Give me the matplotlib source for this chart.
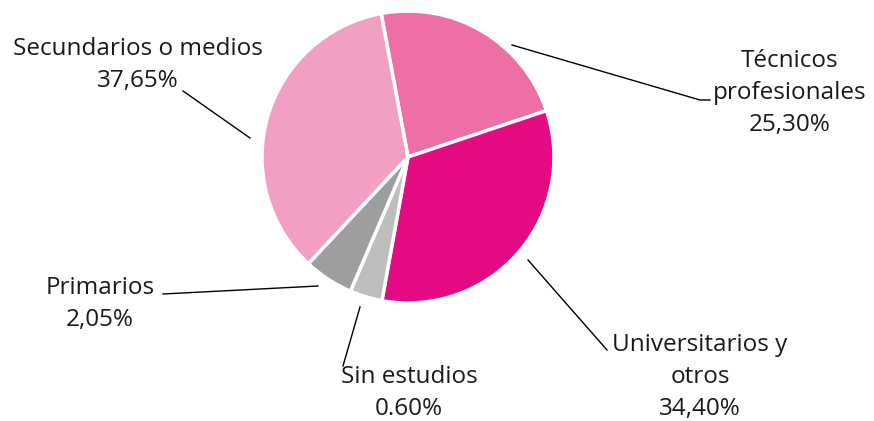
import numpy as np
import matplotlib
matplotlib.use('Agg')
import matplotlib.pyplot as plt

W, H = 874, 421

# valores (porción dibujada) y etiquetas tal como aparecen
categorias = ['Técnicos\nprofesionales', 'Universitarios y\notros', 'Sin estudios',
              'Primarios', 'Secundarios o medios']
porcentajes = ['25,30%', '34,40%', '0.60%', '2,05%', '37,65%']
valores = [22.8, 33.0, 3.6, 5.5, 35.1]
colores = ['#EE6FA5', '#E40A84', '#BDBEBD', '#9D9E9D', '#F19FC3']

plt.rcParams['font.family'] = ['Open Sans', 'DejaVu Sans']

fig = plt.figure(figsize=(W / 100, H / 100), dpi=100)
ax = fig.add_axes([0, 0, 1, 1])
ax.set_xlim(0, W)
ax.set_ylim(0, H)
ax.axis('off')

cx, cy, R = 408, H - 157, 146
ax.pie(valores, colors=colores, startangle=100.6, counterclock=False,
       center=(cx, cy), radius=R,
       wedgeprops=dict(edgecolor='white', linewidth=2.5))
ax.set_xlim(0, W)
ax.set_ylim(0, H)

# posición de etiquetas (centro del bloque de texto, en píxeles de imagen)
etiquetas_pos = [(790, 93), (700, 377), (409, 393), (100, 304), (138, 65)]
# líneas guía (puntos en píxeles de imagen)
guias = [
    [(512, 45), (700, 100), (710, 100)],
    [(528, 260), (607, 350)],
    [(360, 307), (343, 366)],
    [(318, 286), (163, 294)],
    [(250, 138), (183, 91)],
]

for cat, pct, (lx, ly), g in zip(categorias, porcentajes, etiquetas_pos, guias):
    ax.text(lx, H - ly, cat + '\n' + pct, ha='center', va='center',
            fontsize=17.5, color='#1a1a1a', linespacing=1.43)
    xs = [p[0] for p in g]
    ys = [H - p[1] for p in g]
    ax.plot(xs, ys, color='black', linewidth=1)

fig.savefig('out.png', dpi=100)
